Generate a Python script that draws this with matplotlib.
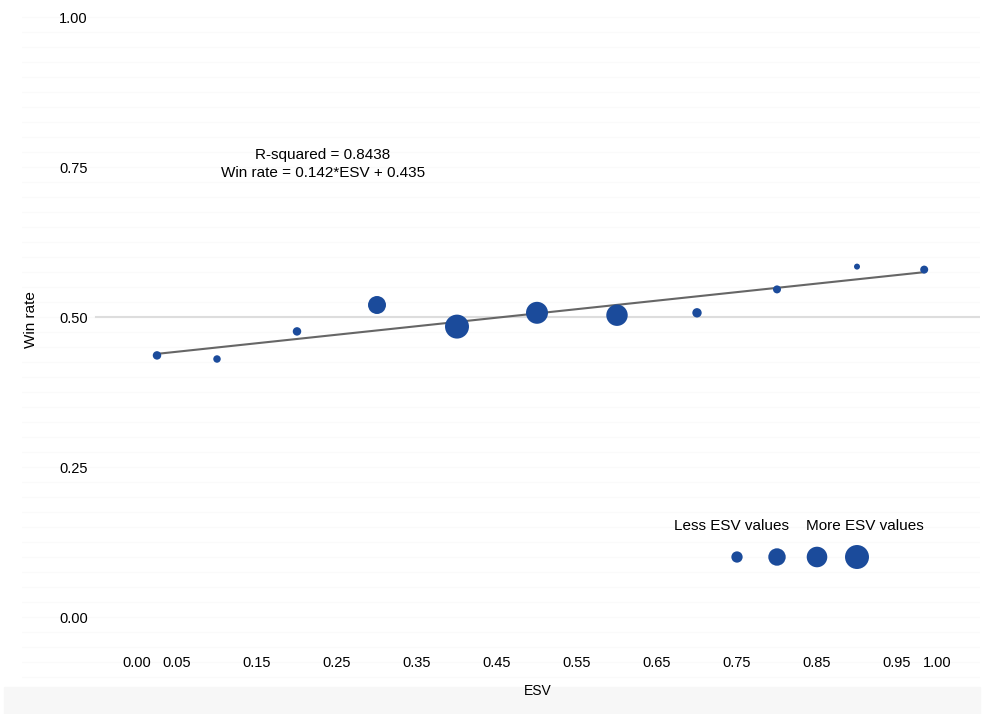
import matplotlib.pyplot as plt
import numpy as np
from matplotlib.patches import Rectangle

plt.rcParams["font.family"] = ["Liberation Sans", "DejaVu Sans"]

# data
esv = [0.025, 0.10, 0.20, 0.30, 0.40, 0.50, 0.60, 0.70, 0.80, 0.90, 0.984]
win_rate = [0.436, 0.430, 0.476, 0.520, 0.484, 0.507, 0.503, 0.507, 0.546, 0.584, 0.579]
n_values = [18, 14, 18, 81, 144, 121, 115, 22, 16, 9, 16]

slope = 0.142
intercept = 0.435
r_squared = 0.8438

legend_x = [0.75, 0.80, 0.85, 0.90]
legend_n = [32, 76, 106, 144]

x_ticks = [0.00, 0.05, 0.15, 0.25, 0.35, 0.45, 0.55, 0.65, 0.75, 0.85, 0.95, 1.00]
y_ticks = [0.00, 0.25, 0.50, 0.75, 1.00]

BLUE = "#1b4b9b"
SIZE_K = 2.07

W, H = 992, 714
fig = plt.figure(figsize=(W / 100, H / 100), dpi=100)
fig.patches.append(Rectangle((4 / W, 0), (980 - 4) / W, (714 - 687) / H,
                             transform=fig.transFigure, color="#f7f7f7", zorder=-5))

ax = fig.add_axes([22 / W, (H - 682) / H, 958 / W, 672 / H])
ax.set_facecolor("none")
ax.set_xlim(-0.14375, 1.05375)
ax.set_ylim(-0.10833, 1.01167)
for s in ax.spines.values():
    s.set_visible(False)

# faint background stripes
for yy in np.arange(-0.10, 1.01, 0.025):
    ax.axhline(yy, color="#fafafa", lw=1, zorder=0)
ax.plot([-0.051, 1.05375], [0.5, 0.5], color="#dddddd", lw=1.5, zorder=1)

# regression line
xs = np.array([min(esv), max(esv)])
ax.plot(xs, slope * xs + intercept, color="#666666", lw=1.5, zorder=2)

ax.scatter(esv, win_rate, s=[n * SIZE_K for n in n_values], color=BLUE,
           edgecolors="none", zorder=3)

# size legend
ax.scatter(legend_x, [0.1] * len(legend_x), s=[n * SIZE_K for n in legend_n],
           color=BLUE, edgecolors="none", zorder=3)
ax.text(0.7425, 0.152, "Less ESV values", ha="center", va="center", fontsize=11)
ax.text(0.91, 0.152, "More ESV values", ha="center", va="center", fontsize=11)

ax.text(0.2325, 0.770, f"R-squared = {r_squared}", ha="center", va="center", fontsize=11)
ax.text(0.2325, 0.7405, f"Win rate = {slope}*ESV + {intercept}", ha="center",
        va="center", fontsize=11)

ax.set_xticks(x_ticks)
ax.set_xticklabels([f"{t:.2f}" for t in x_ticks])
ax.set_yticks(y_ticks)
ax.set_yticklabels([f"{t:.2f}" for t in y_ticks])
ax.tick_params(axis="x", length=0, pad=-18.5, labelsize=10.5)
ax.tick_params(axis="y", length=0, pad=-47.5, labelsize=10.5)

ax.set_xlabel("ESV", fontsize=10)
ax.xaxis.set_label_coords((538 - 22) / 958, -0.003)
ax.set_ylabel("Win rate", fontsize=11)
ax.yaxis.set_label_coords((38 - 22) / 958, (682 - 320) / 672)

fig.savefig("out.png", dpi=100)
